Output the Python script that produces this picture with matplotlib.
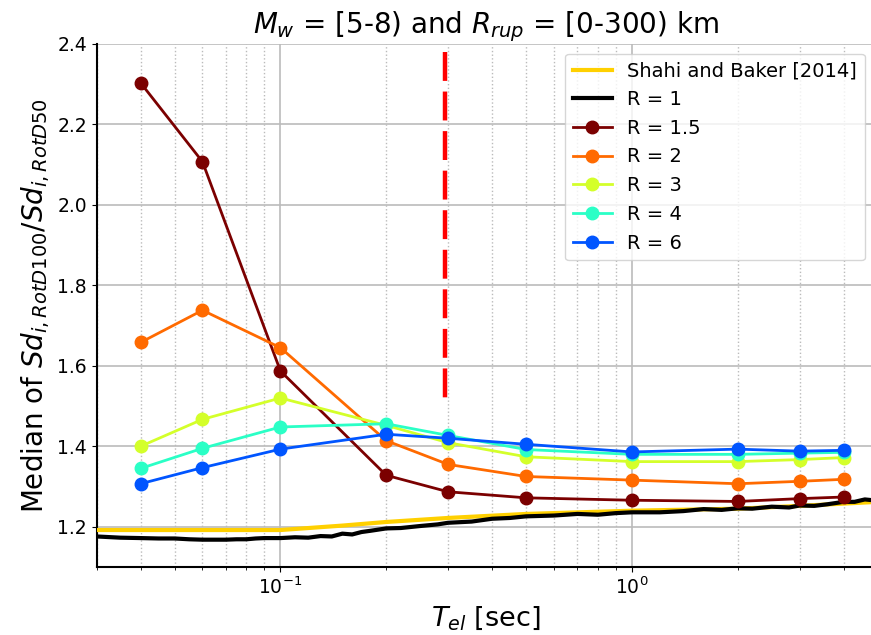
import matplotlib
matplotlib.use("Agg")
import matplotlib.pyplot as plt

periods = [0.04, 0.06, 0.1, 0.2, 0.3, 0.5, 1.0, 2.0, 3.0, 4.0]
r15 = [2.303, 2.107, 1.587, 1.328, 1.287, 1.272, 1.266, 1.263, 1.270, 1.274]
r2 = [1.658, 1.738, 1.645, 1.414, 1.355, 1.325, 1.316, 1.307, 1.313, 1.318]
r3 = [1.400, 1.467, 1.520, 1.452, 1.409, 1.374, 1.362, 1.362, 1.367, 1.372]
r4 = [1.345, 1.395, 1.448, 1.456, 1.427, 1.392, 1.380, 1.380, 1.383, 1.385]
r6 = [1.307, 1.347, 1.393, 1.430, 1.420, 1.405, 1.386, 1.393, 1.388, 1.390]

sb_periods = [0.03, 0.1, 0.15, 0.2, 0.3, 0.5, 1.0, 2.0, 3.0, 5.0]
sb_values = [1.192, 1.192, 1.203, 1.212, 1.222, 1.232, 1.240, 1.245, 1.252, 1.262]

r1_periods = [0.03, 0.035, 0.04, 0.045, 0.05, 0.055, 0.06, 0.065, 0.07, 0.075, 0.08, 0.085,
              0.09, 0.1, 0.11, 0.12, 0.13, 0.14, 0.15, 0.16, 0.17, 0.18, 0.2, 0.22, 0.25,
              0.28, 0.3, 0.35, 0.4, 0.45, 0.5, 0.6, 0.7, 0.8, 0.9, 1.0, 1.2, 1.4, 1.6,
              1.8, 2.0, 2.2, 2.5, 2.8, 3.0, 3.3, 3.6, 4.0, 4.3, 4.6, 4.85]
r1_values = [1.176, 1.173, 1.172, 1.171, 1.171, 1.169, 1.168, 1.168, 1.168, 1.169, 1.169, 1.171,
             1.172, 1.172, 1.174, 1.173, 1.177, 1.176, 1.183, 1.181, 1.187, 1.190, 1.196, 1.197, 1.202,
             1.206, 1.210, 1.213, 1.220, 1.222, 1.226, 1.228, 1.232, 1.230, 1.234, 1.236, 1.236, 1.239, 1.244,
             1.242, 1.246, 1.245, 1.250, 1.248, 1.253, 1.252, 1.256, 1.262, 1.262, 1.268, 1.266]

vline_x = 0.293
vline_y = [2.38, 1.5]

fig = plt.figure(figsize=(8.71, 6.35), dpi=100)
ax = fig.add_axes([0.111, 0.107, 0.893, 0.824])

ax.plot(sb_periods, sb_values, color="#FFD000", lw=3, label="Shahi and Baker [2014]", zorder=3)
ax.plot(r1_periods, r1_values, color="black", lw=3, label="R = 1", zorder=3)
series = [(r15, "#7B0000", "R = 1.5"), (r2, "#FF6A00", "R = 2"), (r3, "#D4FF2A", "R = 3"),
          (r4, "#2AFFC6", "R = 4"), (r6, "#0055FF", "R = 6")]
for vals, c, lab in series:
    ax.plot(periods, vals, color=c, lw=2, marker="o", ms=9, label=lab, zorder=4)

ax.plot([vline_x, vline_x], vline_y, color="red", lw=3.2, dashes=(6.5, 2.4), zorder=2)

ax.set_xscale("log")
ax.set_xlim(0.03, 4.9)
ax.set_ylim(1.1, 2.4)
ax.set_yticks([1.2, 1.4, 1.6, 1.8, 2.0, 2.2, 2.4])
ax.grid(True, which="major", color="#bbbbbb", lw=1.2)
ax.grid(True, which="minor", axis="x", color="#bbbbbb", ls=":", lw=1)
ax.set_axisbelow(True)
ax.tick_params(labelsize=13.5)
for s in ["top", "right"]:
    ax.spines[s].set_visible(False)
ax.spines["left"].set_linewidth(1.5)
ax.spines["bottom"].set_linewidth(1.5)

ax.set_xlabel(r"$T_{el}$ [sec]", fontsize=19.5)
ax.set_ylabel(r"Median of $Sd_{i,RotD100}/Sd_{i,RotD50}$", fontsize=20)
ax.set_title(r"$M_w$ = [5-8) and $R_{rup}$ = [0-300) km", fontsize=20)
ax.legend(loc="upper right", fontsize=14, framealpha=0.8)

fig.savefig("out.png", dpi=100)
